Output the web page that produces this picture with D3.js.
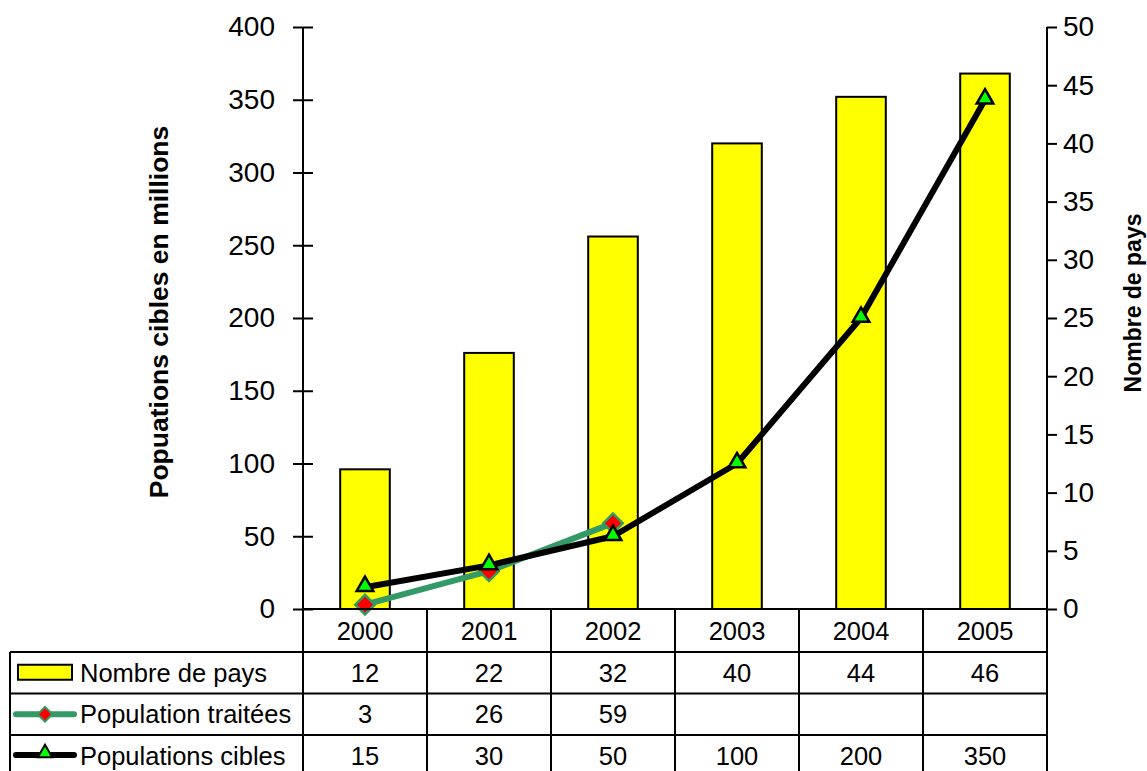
<!DOCTYPE html>
<html>
<head>
<meta charset="utf-8">
<script src="https://cdn.jsdelivr.net/npm/d3@7"></script>
<style>
  html, body { margin: 0; padding: 0; background: #fff; }
  svg { display: block; font-family: "Liberation Sans", Arial, sans-serif; }
</style>
</head>
<body>
<svg id="chart" width="1147" height="771"></svg>
<script>
// Years and series
const years = ["2000", "2001", "2002", "2003", "2004", "2005"];
const nombrePays = [12, 22, 32, 40, 44, 46];
const populationTraitees = [3, 26, 59, null, null, null];
const populationsCibles = [15, 30, 50, 100, 200, 350];

// Axis ticks
const leftTicks = [0, 50, 100, 150, 200, 250, 300, 350, 400];
const rightTicks = [0, 5, 10, 15, 20, 25, 30, 35, 40, 45, 50];

// Table rows (legend column + values)
const seriesNames = ["Nombre de pays", "Population traitées", "Populations cibles"];

const svg = d3.select("#chart");

const plot = { left: 303, right: 1047, top: 27, bottom: 609 };
const rowEdges = [609, 652, 693.5, 735, 777];
const legendLeft = 10;

const x = d3.scaleBand().domain(years).range([plot.left, plot.right]).padding(0);
const yLeft = d3.scaleLinear().domain([0, 400]).range([plot.bottom, plot.top]);
const yRight = d3.scaleLinear().domain([0, 50]).range([plot.bottom, plot.top]);

const GREEN = "#339966";
const tickFont = 28;
const tableFont = 25.5;

// Bars (right axis)
svg.append("g").selectAll("rect")
  .data(years.map((yr, i) => ({ yr, v: nombrePays[i] })))
  .join("rect")
  .attr("x", d => x(d.yr) + x.bandwidth() * 0.3)
  .attr("width", x.bandwidth() * 0.4)
  .attr("y", d => yRight(d.v))
  .attr("height", d => yRight(0) - yRight(d.v))
  .attr("fill", "#ffff00")
  .attr("stroke", "#000")
  .attr("stroke-width", 2);

// Left axis
const gl = svg.append("g").attr("transform", `translate(${plot.left},0)`)
  .call(d3.axisLeft(yLeft).tickValues(leftTicks).tickSize(10).tickPadding(18));
gl.select(".domain").attr("stroke-width", 2).attr("d", `M0,${plot.bottom}V${plot.top}`);
gl.selectAll(".tick line").attr("x2", -10).attr("x1", 10).attr("stroke-width", 2);
gl.selectAll(".tick text").attr("font-size", tickFont).attr("font-family", "Liberation Sans, Arial, sans-serif").attr("fill", "#000");

// Right axis
const gr = svg.append("g").attr("transform", `translate(${plot.right},0)`)
  .call(d3.axisRight(yRight).tickValues(rightTicks).tickSize(10).tickPadding(6));
gr.select(".domain").attr("stroke-width", 2).attr("d", `M0,${plot.bottom}V${plot.top}`);
gr.selectAll(".tick line").attr("stroke-width", 2);
gr.selectAll(".tick text").attr("font-size", tickFont).attr("font-family", "Liberation Sans, Arial, sans-serif").attr("fill", "#000");

// Axis titles
svg.append("text")
  .attr("transform", `translate(168,${(plot.top + plot.bottom) / 2 - 6}) rotate(-90)`)
  .attr("text-anchor", "middle")
  .attr("font-size", 26.5).attr("font-weight", "bold")
  .text("Popuations cibles en millions");

svg.append("text")
  .attr("transform", `translate(1141,${(plot.top + plot.bottom) / 2 - 15}) rotate(-90)`)
  .attr("text-anchor", "middle")
  .attr("font-size", 23).attr("font-weight", "bold")
  .text("Nombre de pays");

// Lines
function drawSeries(values, color, scale) {
  const pts = years.map((yr, i) => ({ yr, v: values[i] })).filter(d => d.v != null);
  const line = d3.line().x(d => x(d.yr) + x.bandwidth() / 2).y(d => scale(d.v));
  svg.append("path").datum(pts)
    .attr("d", line)
    .attr("fill", "none")
    .attr("stroke", color)
    .attr("stroke-width", 6)
    .attr("stroke-linejoin", "round");
  return pts;
}

const triangle = d3.symbol().type(d3.symbolTriangle).size(120);

const ptsT = drawSeries(populationTraitees, GREEN, yLeft);
svg.append("g").selectAll("path").data(ptsT).join("path")
  .attr("transform", d => `translate(${x(d.yr) + x.bandwidth() / 2},${yLeft(d.v)}) rotate(45)`)
  .attr("d", d3.symbol().type(d3.symbolSquare).size(190)())
  .attr("fill", "#ff0000").attr("stroke", GREEN).attr("stroke-width", 2.5);

const ptsC = drawSeries(populationsCibles, "#000", yLeft);
svg.append("g").selectAll("path").data(ptsC).join("path")
  .attr("transform", d => `translate(${x(d.yr) + x.bandwidth() / 2},${yLeft(d.v) - 1})`)
  .attr("d", triangle())
  .attr("fill", "#00ff00").attr("stroke", "#000").attr("stroke-width", 2.5);

// Data table
const table = svg.append("g").attr("stroke", "#000").attr("stroke-width", 2);
// horizontal rules
table.append("line").attr("x1", plot.left).attr("x2", plot.right).attr("y1", rowEdges[0]).attr("y2", rowEdges[0]);
rowEdges.slice(1, 4).forEach(yv => {
  table.append("line").attr("x1", legendLeft).attr("x2", plot.right).attr("y1", yv).attr("y2", yv);
});
// vertical rules
table.append("line").attr("x1", legendLeft).attr("x2", legendLeft).attr("y1", rowEdges[1]).attr("y2", 771);
years.forEach(yr => {
  table.append("line").attr("x1", x(yr)).attr("x2", x(yr)).attr("y1", rowEdges[0]).attr("y2", 771);
});
table.append("line").attr("x1", plot.right).attr("x2", plot.right).attr("y1", rowEdges[0]).attr("y2", 771);

const rowMid = i => (rowEdges[i] + rowEdges[i + 1]) / 2;

// header row
svg.append("g").selectAll("text").data(years).join("text")
  .attr("x", d => x(d) + x.bandwidth() / 2)
  .attr("y", rowMid(0))
  .attr("dy", "0.36em")
  .attr("text-anchor", "middle")
  .attr("font-size", tableFont)
  .text(d => d);

// value rows
[nombrePays, populationTraitees, populationsCibles].forEach((vals, r) => {
  svg.append("g").selectAll("text").data(years.map((yr, i) => ({ yr, v: vals[i] })).filter(d => d.v != null))
    .join("text")
    .attr("x", d => x(d.yr) + x.bandwidth() / 2)
    .attr("y", rowMid(r + 1))
    .attr("dy", "0.36em")
    .attr("text-anchor", "middle")
    .attr("font-size", tableFont)
    .text(d => d.v);
});

// legend keys + names
seriesNames.forEach((name, r) => {
  const cy = rowMid(r + 1);
  svg.append("text")
    .attr("x", 80).attr("y", cy).attr("dy", "0.36em")
    .attr("font-size", tableFont)
    .text(name);
});
// bar key
svg.append("rect")
  .attr("x", 18).attr("y", rowMid(1) - 8).attr("width", 54).attr("height", 15)
  .attr("fill", "#ffff00").attr("stroke", "#000").attr("stroke-width", 2);
// treated key
svg.append("line").attr("x1", 16).attr("x2", 74).attr("y1", rowMid(2)).attr("y2", rowMid(2))
  .attr("stroke", GREEN).attr("stroke-width", 6).attr("stroke-linecap", "round");
svg.append("path")
  .attr("transform", `translate(45,${rowMid(2)}) rotate(45)`)
  .attr("d", d3.symbol().type(d3.symbolSquare).size(110)())
  .attr("fill", "#ff0000").attr("stroke", GREEN).attr("stroke-width", 2);
// target key
svg.append("line").attr("x1", 16).attr("x2", 74).attr("y1", rowMid(3) - 1).attr("y2", rowMid(3) - 1)
  .attr("stroke", "#000").attr("stroke-width", 6).attr("stroke-linecap", "round");
svg.append("path")
  .attr("transform", `translate(45,${rowMid(3) - 3})`)
  .attr("d", d3.symbol().type(d3.symbolTriangle).size(90)())
  .attr("fill", "#00ff00").attr("stroke", "#000").attr("stroke-width", 2);
</script>
</body>
</html>
